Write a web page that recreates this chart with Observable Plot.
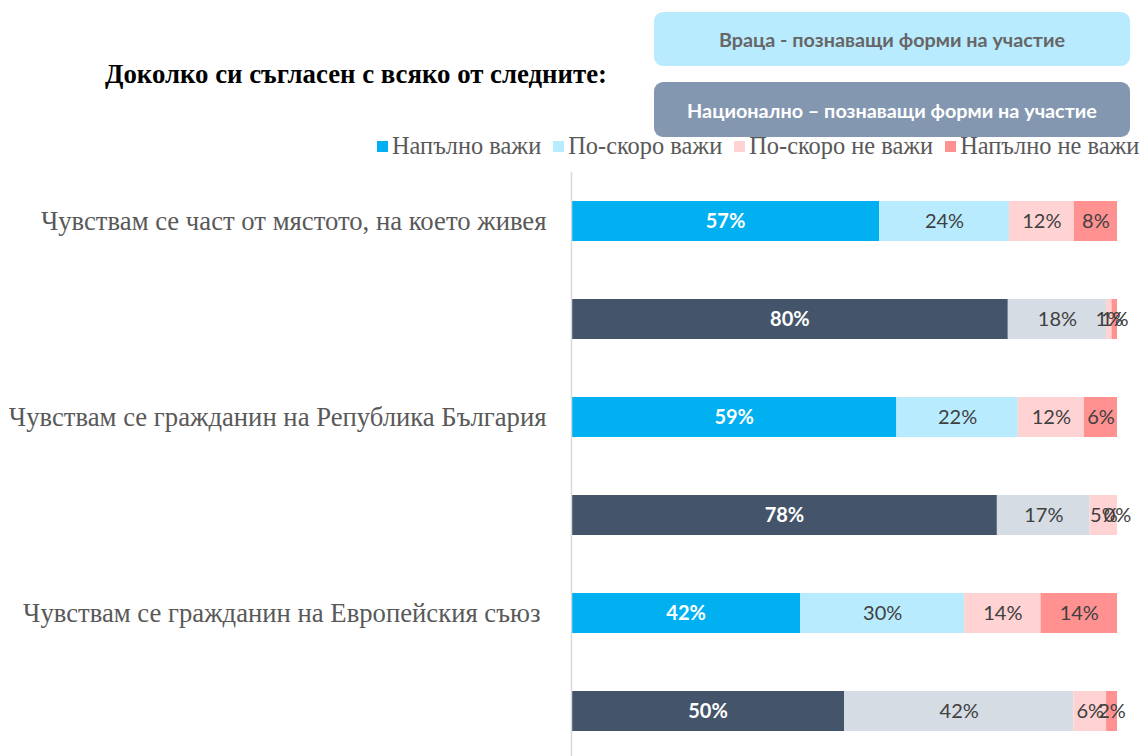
<!DOCTYPE html>
<html>
<head>
<meta charset="utf-8">
<script src="https://cdn.jsdelivr.net/npm/d3@7"></script>
<script src="https://cdn.jsdelivr.net/npm/@observablehq/plot@0.6"></script>
<style>
  html, body { margin: 0; padding: 0; background: #fff; }
  #wrap { position: relative; width: 1143px; height: 756px; overflow: hidden; }
  #chart { position: absolute; left: 0; top: 0; }
  .title { position: absolute; left: 105px; top: 58px; line-height: 32px; font-family: "Liberation Serif", serif; font-weight: bold; font-size: 26.8px; color: #000; white-space: nowrap; }
  .box { position: absolute; left: 654px; width: 476px; border-radius: 9px; display: flex; align-items: center; justify-content: center; font-family: "Lato", "Open Sans", sans-serif; font-weight: bold; font-size: 19.8px; }
  .legend { position: absolute; left: 377px; top: 132px; line-height: 28px; display: flex; font-family: "Liberation Serif", serif; font-size: 24.4px; color: #595959; white-space: nowrap; }
  .legend .item { display: flex; align-items: center; margin-right: 12px; }
  .legend .sw { width: 11px; height: 11px; margin-right: 4px; }
</style>
</head>
<body>
<div id="wrap">
  <div id="chart"></div>
  <div class="title" id="title"></div>
  <div class="legend" id="legend"></div>
  <div class="box" id="box1" style="top:12px;height:54px;background:#B9EBFF;color:#666666;"></div>
  <div class="box" id="box2" style="top:82px;height:55px;background:#8497B0;color:#ffffff;"></div>
</div>
<script>
const titleText = "Доколко си съгласен с всяко от следните:";
const groupLabels = ["Враца - познаващи форми на участие", "Национално – познаващи форми на участие"];
const statements = [
  "Чувствам се част от мястото, на което живея",
  "Чувствам се гражданин на Република България",
  "Чувствам се гражданин на Европейския съюз"
];
const categories = ["Напълно важи", "По-скоро важи", "По-скоро не важи", "Напълно не важи"];
const vratsaValues = [
  [57, 24, 12, 8],
  [59, 22, 12, 6],
  [42, 30, 14, 14]
];
const nationalValues = [
  [80, 18, 1, 1],
  [78, 17, 5, 0],
  [50, 42, 6, 2]
];
const vratsaColors = ["#00B0F0", "#B9EBFF", "#FFD3D3", "#FF9191"];
const nationalColors = ["#44546A", "#D6DCE4", "#FFD3D3", "#FF9191"];

// build table
const rowIds = [];
const data = [];
statements.forEach((s, i) => {
  const r1 = "v" + i, r2 = "n" + i;
  rowIds.push(r1, r2);
  categories.forEach((c, j) => {
    data.push({row: r1, cat: j, value: vratsaValues[i][j], fill: vratsaColors[j]});
  });
  categories.forEach((c, j) => {
    data.push({row: r2, cat: j, value: nationalValues[i][j], fill: nationalColors[j]});
  });
});
const labelData = statements.map((s, i) => ({row: "v" + i, label: s}));

const stackOpts = {y: "row", x: "value", z: "cat", order: null, offset: "normalize"};
const valueFont = "Lato, 'Open Sans', sans-serif";
const labelStyle = {y: "row", x: 0, text: "label", textAnchor: "end",
  fontFamily: "'Liberation Serif', serif", fontSize: 26.7, fill: "#595959"};

const chart = Plot.plot({
  width: 1143,
  height: 756,
  marginLeft: 571,
  marginRight: 26,
  marginTop: 172,
  marginBottom: 0,
  x: {domain: [0, 1], axis: null},
  y: {domain: rowIds, range: [171, 761], paddingInner: 0.5935, paddingOuter: 0.295, axis: null},
  color: {type: "identity"},
  marks: [
    Plot.barX(data, Plot.stackX({...stackOpts, fill: "fill"})),
    Plot.ruleX([0], {stroke: "#D9D9D9", strokeWidth: 1.5}),
    Plot.text(data, Plot.stackX({
      ...stackOpts,
      text: d => d.cat === 0 ? d.value + "%" : null,
      fill: "#ffffff", fontWeight: "bold", fontSize: 20, fontFamily: valueFont
    })),
    Plot.text(data, Plot.stackX({
      ...stackOpts,
      text: d => d.cat === 0 ? null : d.value + "%",
      fill: "#404040", fontSize: 20, fontFamily: valueFont
    })),
    Plot.text(labelData.slice(0, 2), {...labelStyle, dx: -25}),
    Plot.text(labelData.slice(2), {...labelStyle, dx: -31})
  ]
});
document.getElementById("chart").appendChild(chart);

document.getElementById("title").textContent = titleText;
document.getElementById("box1").textContent = groupLabels[0];
document.getElementById("box2").textContent = groupLabels[1];
const leg = document.getElementById("legend");
categories.forEach((c, j) => {
  const it = document.createElement("div");
  it.className = "item";
  const sw = document.createElement("div");
  sw.className = "sw";
  sw.style.background = vratsaColors[j];
  const t = document.createElement("span");
  t.textContent = c;
  it.appendChild(sw); it.appendChild(t);
  leg.appendChild(it);
});
</script>
</body>
</html>
